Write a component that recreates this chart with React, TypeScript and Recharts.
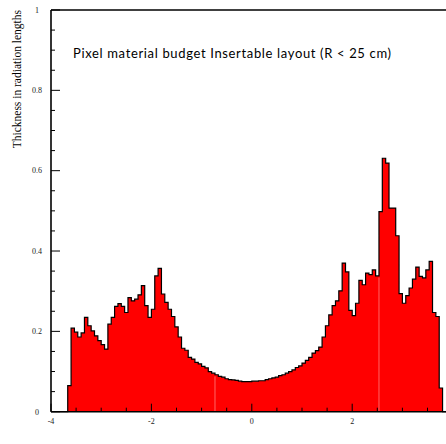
import { AreaChart, Area, XAxis, YAxis, ReferenceLine } from "recharts";

// histogram: 120 bins of width 1/15 from eta = -4 to 4
const etaMin = -4;
const binsPerUnit = 15;

const thickness = [
    0, 0, 0, 0, 0, 0.065, 0.208, 0.198, 0.186, 0.196,
    0.235, 0.214, 0.201, 0.189, 0.177, 0.167, 0.156, 0.218, 0.235, 0.262,
    0.269, 0.262, 0.247, 0.284, 0.276, 0.28, 0.291, 0.314, 0.264, 0.235,
    0.255, 0.338, 0.357, 0.293, 0.272, 0.255, 0.237, 0.211, 0.186, 0.158,
    0.153, 0.135, 0.131, 0.123, 0.119, 0.113, 0.109, 0.1, 0.096, 0.092,
    0.088, 0.086, 0.082, 0.08, 0.079, 0.078, 0.076, 0.075, 0.075, 0.075,
    0.076, 0.076, 0.077, 0.077, 0.08, 0.082, 0.084, 0.086, 0.09, 0.092,
    0.096, 0.1, 0.104, 0.11, 0.114, 0.121, 0.128, 0.135, 0.146, 0.152,
    0.161, 0.186, 0.214, 0.241, 0.264, 0.276, 0.301, 0.37, 0.348, 0.252,
    0.239, 0.27, 0.327, 0.316, 0.345, 0.341, 0.353, 0.338, 0.498, 0.631,
    0.619, 0.507, 0.507, 0.438, 0.294, 0.27, 0.289, 0.308, 0.33, 0.36,
    0.337, 0.333, 0.353, 0.374, 0.247, 0.237, 0.059, 0, 0, 0,
];

const xTicks = [-4, -3.5, -3, -2.5, -2, -1.5, -1, -0.5, 0, 0.5, 1, 1.5, 2, 2.5, 3, 3.5, 4];
const xMajor = [-4, -2, 0, 2, 4];
// the label for 4 falls outside the picture
const xLabels = [-4, -2, 0, 2];
const yTicks = [
    0, 0.05, 0.1, 0.15, 0.2, 0.25, 0.3, 0.35, 0.4, 0.45, 0.5,
    0.55, 0.6, 0.65, 0.7, 0.75, 0.8, 0.85, 0.9, 0.95, 1,
];
const yLabels = [0, 0.2, 0.4, 0.6, 0.8, 1];

// faint seams inside the fill (bin edges where the polygon is split)
const seamBins = [49, 98];

const title = "Pixel material budget Insertable layout (R < 25 cm)";
const yTitle = "Thickness in radiation lengths";

const edge = (i: number) => etaMin + i / binsPerUnit;

const data = thickness
    .map((v, i) => ({ x: edge(i), v }))
    .concat([{ x: edge(thickness.length), v: 0 }]);

const serif = "'Liberation Serif', 'Times New Roman', serif";

function XTick(props: any) {
    const { x, y, payload } = props;
    const major = xMajor.includes(payload.value);
    return (
        <g>
            <line x1={x} x2={x} y1={y} y2={y - (major ? 8 : 4)} stroke="#000" strokeWidth={1} />
            {xLabels.includes(payload.value) && (
                <text x={x} y={y + 12} textAnchor="middle" fontSize={8} fontFamily={serif} fill="#222">
                    {payload.value}
                </text>
            )}
        </g>
    );
}

function YTick(props: any) {
    const { x, y, payload } = props;
    const major = yLabels.includes(payload.value);
    return (
        <g>
            <line x1={x} x2={x + (major ? 9 : 4)} y1={y} y2={y} stroke="#000" strokeWidth={1} />
            {major && (
                <text x={x - 14} y={y + 2.8} textAnchor="middle" fontSize={8} fontFamily={serif} fill="#222">
                    {payload.value}
                </text>
            )}
        </g>
    );
}

export default function App() {
    return (
        <div
            style={{
                position: "absolute",
                left: 0,
                top: 0,
                width: 446,
                height: 444,
                overflow: "hidden",
                background: "#fff",
            }}
        >
            <AreaChart
                width={460}
                height={444}
                data={data}
                margin={{ top: 10, right: 7.4, left: 0, bottom: 2.3 }}
            >
                <XAxis
                    dataKey="x"
                    type="number"
                    domain={[-4, 4]}
                    ticks={xTicks}
                    interval={0}
                    tickSize={0}
                    tickMargin={0}
                    height={30}
                    axisLine={{ stroke: "#000", strokeWidth: 1.6 }}
                    tick={<XTick />}
                />
                <YAxis
                    type="number"
                    domain={[0, 1]}
                    ticks={yTicks}
                    interval={0}
                    tickSize={0}
                    tickMargin={0}
                    width={51}
                    axisLine={{ stroke: "#000", strokeWidth: 1.6 }}
                    tick={<YTick />}
                />
                <Area
                    type="stepAfter"
                    dataKey="v"
                    stroke="#000"
                    strokeWidth={1.2}
                    fill="#ff0000"
                    fillOpacity={1}
                    dot={false}
                    activeDot={false}
                    isAnimationActive={false}
                />
                {seamBins.map((b) => (
                    <ReferenceLine
                        key={b}
                        segment={[
                            { x: edge(b), y: 0 },
                            { x: edge(b), y: Math.min(thickness[b - 1], thickness[b]) - 0.004 },
                        ]}
                        stroke="#ff9090"
                        strokeWidth={0.7}
                    />
                ))}
                <ReferenceLine y={1} stroke="#000" strokeWidth={1.5} />
            </AreaChart>
            <svg
                width={446}
                height={444}
                style={{ position: "absolute", left: 0, top: 0, pointerEvents: "none" }}
            >
                <text
                    x={73}
                    y={58.3}
                    fontSize={13}
                    fontFamily="Lato, 'DejaVu Sans', sans-serif"
                    textLength={318}
                    lengthAdjust="spacing"
                    fill="#000"
                >
                    {title}
                </text>
                <text
                    transform="translate(20.5,10) rotate(-90)"
                    textAnchor="end"
                    fontSize={11.5}
                    fontFamily={serif}
                    fill="#000"
                >
                    {yTitle}
                </text>
            </svg>
        </div>
    );
}
